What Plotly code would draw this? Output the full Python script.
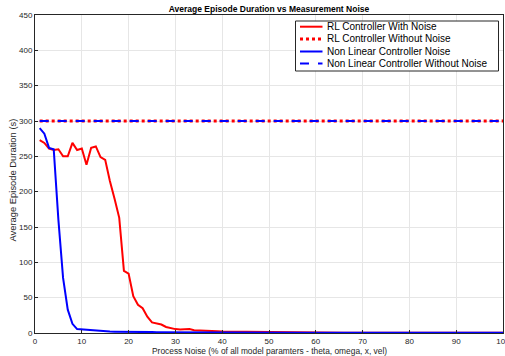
import plotly.graph_objects as go

noise_pct = list(range(1, 101))

rl_with_noise = [
    273, 269, 261, 259, 260, 250, 250, 269, 259, 261,
    238, 262, 264, 249, 245, 215, 190, 163, 88, 84,
    52, 40, 35, 23, 15, 14, 12, 8.5, 6.5, 5.5,
    5, 5, 5.5, 4, 3.5, 3, 3.2, 2.5, 2.3, 2.1,
    2.0, 1.8, 1.7, 1.6, 1.5, 1.4, 1.3, 1.2, 1.1, 1.0,
    0.95, 0.9, 0.85, 0.8, 0.75, 0.7, 0.65, 0.6, 0.55, 0.5,
    0.5, 0.48, 0.47, 0.46, 0.45, 0.45, 0.44, 0.43, 0.42, 0.42,
    0.41, 0.4, 0.4, 0.39, 0.38, 0.38, 0.37, 0.37, 0.36, 0.36,
    0.35, 0.35, 0.34, 0.34, 0.33, 0.33, 0.33, 0.32, 0.32, 0.32,
    0.31, 0.31, 0.31, 0.3, 0.3, 0.3, 0.3, 0.3, 0.3, 0.3,
]
rl_without_noise = [300] * 100

nl_with_noise = [
    290, 282, 262, 260, 160, 78, 33, 13, 5.5, 5,
    3.5, 3, 2.7, 2.5, 2.2, 2.0, 1.9, 1.7, 1.6, 1.5,
    1.45, 1.4, 1.35, 1.3, 1.25, 1.2, 1.15, 1.1, 1.05, 1.0,
    0.95, 0.92, 0.9, 0.88, 0.85, 0.82, 0.8, 0.78, 0.75, 0.72,
    0.7, 0.68, 0.66, 0.64, 0.62, 0.6, 0.58, 0.56, 0.54, 0.52,
    0.5, 0.49, 0.48, 0.47, 0.46, 0.45, 0.44, 0.43, 0.42, 0.41,
    0.4, 0.39, 0.38, 0.37, 0.36, 0.35, 0.34, 0.33, 0.32, 0.31,
    0.3, 0.3, 0.29, 0.29, 0.28, 0.28, 0.27, 0.27, 0.26, 0.26,
    0.25, 0.25, 0.25, 0.24, 0.24, 0.24, 0.23, 0.23, 0.23, 0.22,
    0.22, 0.22, 0.21, 0.21, 0.21, 0.2, 0.2, 0.2, 0.2, 0.2,
]
nl_without_noise = [300] * 100

x_ticks = list(range(0, 101, 10))
y_ticks = list(range(0, 451, 50))

series_names = [
    "RL Controller With Noise",
    "RL Controller Without Noise",
    "Non Linear Controller Noise",
    "Non Linear Controller Without Noise",
]
series_styles = [
    dict(color="#ff0000", width=2, dash="solid"),
    dict(color="#ff0000", width=3, dash="dot"),
    dict(color="#0000ff", width=2, dash="solid"),
    dict(color="#0000ff", width=2, dash="dash"),
]
series_values = [rl_with_noise, rl_without_noise, nl_with_noise, nl_without_noise]

title_text = "<b>Average Episode Duration vs Measurement Noise</b>"
x_title = "Process Noise (% of all model paramters - theta, omega, x, vel)"
y_title = "Average Episode Duration (s)"

FONT = "Liberation Sans, Arial, Helvetica, sans-serif"
W, H = 505, 356
ML, MR, MT, MB = 35, 2, 15, 23
PW, PH = W - ML - MR, H - MT - MB


def px_x(p):
    return (p - ML) / PW


def px_y(p):
    return (H - MB - p) / PH


fig = go.Figure()
for name, vals, st in zip(series_names, series_values, series_styles):
    fig.add_trace(go.Scatter(x=noise_pct, y=vals, mode="lines", name=name,
                             line=st, showlegend=False, hoverinfo="skip"))

axis_common = dict(
    showline=True, linecolor="#262626", linewidth=1, mirror=True,
    showgrid=True, gridcolor="#e6e6e6", gridwidth=1,
    ticks="inside", ticklen=3, tickcolor="#262626",
    tickfont=dict(size=8, color="#262626", family=FONT),
    zeroline=False, automargin=False,
)

shapes = []
annotations = []
# custom legend (box, line samples, labels) placed in plot-area fractions
shapes.append(dict(type="rect", xref="paper", yref="paper",
                   x0=px_x(295.5), x1=px_x(498.5), y0=px_y(71), y1=px_y(21),
                   line=dict(color="#262626", width=1), fillcolor="white",
                   layer="above"))
row_y = [26.7, 39.0, 51.5, 63.5]
for name, st, ry in zip(series_names, series_styles, row_y):
    shapes.append(dict(type="line", xref="paper", yref="paper",
                       x0=px_x(300), x1=px_x(322.5), y0=px_y(ry), y1=px_y(ry),
                       line=dict(color=st["color"], width=st["width"], dash=st["dash"]),
                       layer="above"))
    annotations.append(dict(text=name, xref="paper", yref="paper",
                            x=px_x(324.5), y=px_y(ry), xanchor="left", yanchor="middle",
                            showarrow=False, font=dict(size=10, color="black", family=FONT)))

# axis titles
annotations.append(dict(text=x_title, xref="paper", yref="paper",
                        x=px_x(269), y=px_y(350.5), xanchor="center", yanchor="middle",
                        showarrow=False, font=dict(size=8.4, color="#262626", family=FONT)))
annotations.append(dict(text=y_title, xref="paper", yref="paper", textangle=-90,
                        x=px_x(11.5), y=px_y(180), xanchor="center", yanchor="middle",
                        showarrow=False, font=dict(size=9.4, color="#262626", family=FONT)))

fig.update_layout(
    width=W, height=H,
    margin=dict(l=ML, r=MR, t=MT, b=MB),
    paper_bgcolor="white", plot_bgcolor="white",
    font=dict(family=FONT, color="#262626"),
    title=dict(text=title_text,
               xref="paper", x=0.5, xanchor="center",
               yref="container", y=1 - 9 / H, yanchor="middle",
               font=dict(size=8.5, color="black", family=FONT)),
    xaxis=dict(range=[0, 100], tickvals=x_ticks, ticklabeloverflow="allow",
               ticklabelstandoff=0, **axis_common),
    yaxis=dict(range=[0, 450], tickvals=y_ticks, **axis_common),
    shapes=shapes,
    annotations=annotations,
    showlegend=False,
)

fig.write_html("out.html",
               config={"displayModeBar": False},
               post_script="document.body.style.margin='0';document.body.style.overflow='hidden';")
